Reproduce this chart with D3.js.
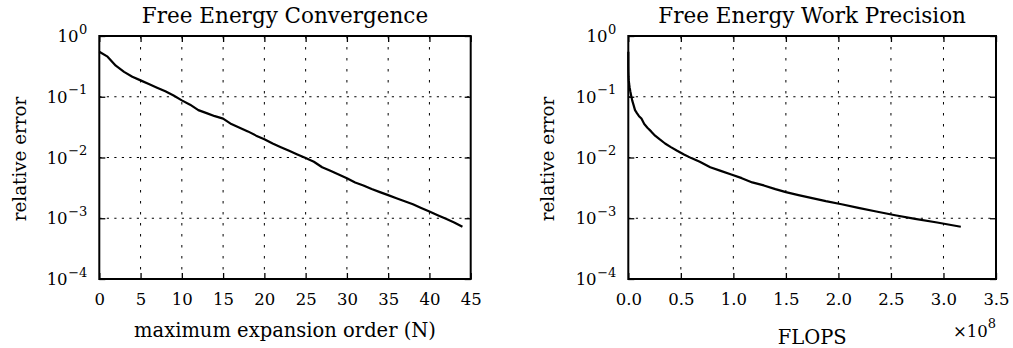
<!DOCTYPE html>
<html><head><meta charset="utf-8">
<script src="https://cdn.jsdelivr.net/npm/d3@7"></script>
<style>
body{margin:0;background:#fff}
svg{display:block}
text{font-family:"DejaVu Serif",serif;fill:#000}
</style>
</head><body>
<svg id="chart" width="1013" height="348"></svg>
<script>
// ---------------- data ----------------
const orders = [0,1,2,3,4,5,6,7,8,9,10,11,12,13,14,15,16,17,18,19,20,21,22,23,24,25,26,27,28,29,30,31,32,33,34,35,36,37,38,39,40,41,42,43,44];
const relErrors = [0.550,0.457,0.324,0.257,0.214,0.186,0.162,0.141,0.123,0.105,
  0.0871,0.0741,0.0603,0.0537,0.0479,0.0437,0.0355,0.0309,0.0269,0.0229,
  0.0200,0.0170,0.0148,0.0129,0.0112,0.00977,0.00851,0.00692,0.00603,0.00525,
  0.00457,0.00389,0.00347,0.00302,0.00269,0.00240,0.00214,0.00191,0.00170,0.00148,
  0.00129,0.00112,0.000977,0.000851,0.000724];
// FLOPS in units of 1e8
const flopsE8 = [0.0000,0.0001,0.0003,0.0010,0.0024,0.0046,0.008,0.013,0.019,0.027,
  0.037,0.049,0.064,0.082,0.102,0.125,0.152,0.182,0.217,0.255,
  0.297,0.350,0.405,0.465,0.530,0.600,0.680,0.780,0.880,0.980,
  1.08,1.18,1.29,1.40,1.50,1.62,1.75,1.88,2.03,2.19,
  2.36,2.54,2.73,2.94,3.165];

const orderTicks = [0,5,10,15,20,25,30,35,40,45];
const flopsTicks = [0,0.5,1.0,1.5,2.0,2.5,3.0,3.5];
const errorTicks = [1e-4,1e-3,1e-2,1e-1,1];
const errorTickExponents = ["−4","−3","−2","−1","0"];

const titles = ["Free Energy Convergence","Free Energy Work Precision"];
const xLabels = ["maximum expansion order (N)","FLOPS"];
const yLabel = "relative error";

// ---------------- layout ----------------
const svg = d3.select("#chart");
const plotTop = 36, plotBottom = 279;
const panels = [
  {x0:99.3, x1:470.7, domain:[0,45], xs:orders, ticks:orderTicks, fmt:d=>String(d),
   title:titles[0], xlabel:xLabels[0], xlabelY:337.3, ylabelX:25.5},
  {x0:628.3, x1:996, domain:[0,3.5], xs:flopsE8, ticks:flopsTicks, fmt:d3.format(".1f"),
   title:titles[1], xlabel:xLabels[1], xlabelY:344, ylabelX:553.5, offset:"8"}
];

panels.forEach(p => {
  const x = d3.scaleLinear().domain(p.domain).range([p.x0, p.x1]);
  const y = d3.scaleLog().domain([1e-4, 1]).range([plotBottom, plotTop]);
  const g = svg.append("g");

  // grid
  g.append("g").selectAll("line").data(p.ticks.slice(1, -1)).join("line")
    .attr("x1", d => x(d)).attr("x2", d => x(d)).attr("y1", plotTop).attr("y2", plotBottom)
    .attr("stroke", "#000").attr("stroke-width", 1).attr("stroke-dasharray", "2.5,8.5");
  g.append("g").selectAll("line").data(errorTicks.slice(1, -1)).join("line")
    .attr("x1", p.x0).attr("x2", p.x1).attr("y1", d => y(d)).attr("y2", d => y(d))
    .attr("stroke", "#000").attr("stroke-width", 1).attr("stroke-dasharray", "2.2,5.3");

  // curve
  const pts = p.xs.map((v, i) => [v, relErrors[i]]);
  g.append("path").datum(pts)
    .attr("d", d3.line().x(d => x(d[0])).y(d => y(d[1])))
    .attr("fill", "none").attr("stroke", "#000").attr("stroke-width", 2.2)
    .attr("stroke-linejoin", "round");

  // axes (ticks inward)
  const ax = (axis, tx, ty) => {
    const a = g.append("g").attr("transform", `translate(${tx},${ty})`).call(axis);
    a.select(".domain").remove();
    a.selectAll(".tick line").attr("stroke-width", 1.3);
    return a;
  };
  const xb = ax(d3.axisBottom(x).tickValues(p.ticks).tickSizeInner(-6).tickSizeOuter(0)
      .tickPadding(14).tickFormat(p.fmt), 0, plotBottom);
  xb.selectAll("text").attr("font-size", 16.5).attr("font-family", "DejaVu Serif").attr("fill", "#000");
  ax(d3.axisTop(x).tickValues(p.ticks).tickSizeInner(-6).tickSizeOuter(0).tickFormat(""), 0, plotTop);
  ax(d3.axisLeft(y).tickValues(errorTicks).tickSizeInner(-6).tickSizeOuter(0).tickFormat(""), p.x0, 0);
  ax(d3.axisRight(y).tickValues(errorTicks).tickSizeInner(-6).tickSizeOuter(0).tickFormat(""), p.x1, 0);

  // y tick labels with superscripts
  const lab = g.append("g").selectAll("text").data(errorTicks).join("text")
    .attr("x", p.x0 - 12).attr("y", d => y(d) + 6).attr("text-anchor", "end")
    .attr("font-size", 16.5);
  lab.append("tspan").text("10");
  lab.append("tspan").attr("font-size", 13).attr("dy", -8.4).attr("dx", 0.5)
    .text((d, i) => errorTickExponents[i]);

  // frame
  g.append("rect").attr("x", p.x0).attr("y", plotTop).attr("width", p.x1 - p.x0)
    .attr("height", plotBottom - plotTop).attr("fill", "none").attr("stroke", "#000").attr("stroke-width", 2);

  // title
  g.append("text").attr("x", (p.x0 + p.x1) / 2).attr("y", 23.3).attr("text-anchor", "middle")
    .attr("font-size", 21.5).text(p.title);
  // x label
  g.append("text").attr("x", (p.x0 + p.x1) / 2).attr("y", p.xlabelY).attr("text-anchor", "middle")
    .attr("font-size", 19.5).text(p.xlabel);
  // y label
  g.append("text").attr("transform", `translate(${p.ylabelX},${(plotTop + plotBottom) / 2 + 1.5}) rotate(-90)`)
    .attr("text-anchor", "middle").attr("font-size", 18.3).text(yLabel);
  // offset text
  if (p.offset) {
    const t = g.append("text").attr("x", p.x1).attr("y", 337).attr("text-anchor", "end").attr("font-size", 16.5);
    t.append("tspan").text("×10");
    t.append("tspan").attr("font-size", 13).attr("dy", -9).text(p.offset);
  }
});
</script>
</body></html>
